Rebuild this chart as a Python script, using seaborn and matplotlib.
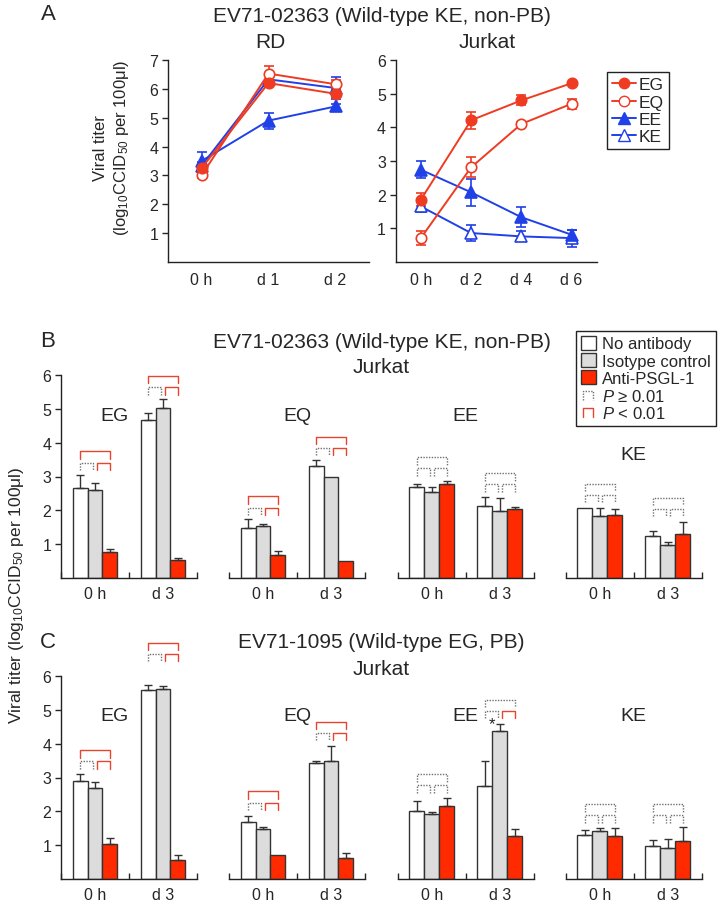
import numpy as np
import pandas as pd
import matplotlib
matplotlib.use("Agg")
import matplotlib.pyplot as plt
import seaborn as sns
from matplotlib.lines import Line2D
from matplotlib.patches import Patch
from matplotlib.legend_handler import HandlerBase

## Data: panel A (growth curves)
days_rd = ["0 h", "d 1", "d 2"]
rd_eg = [3.25, 6.20, 5.83]
rd_eg_err = [0.10, 0.10, 0.10]
rd_eq = [3.00, 6.53, 6.16]
rd_eq_err = [0.10, 0.26, 0.15]
rd_ee = [3.50, 4.90, 5.39]
rd_ee_err = [0.30, 0.28, 0.10]
rd_ke = [3.33, 6.33, 6.03]
rd_ke_err = [0.15, 0.10, 0.38]

days_j = ["0 h", "d 2", "d 4", "d 6"]
j_eg = [1.85, 4.21, 4.80, 5.31]
j_eg_err = [0.20, 0.25, 0.15, 0.05]
j_eq = [0.71, 2.81, 4.10, 4.70]
j_eq_err = [0.20, 0.30, 0.05, 0.15]
j_ee = [2.74, 2.07, 1.33, 0.81]
j_ee_err = [0.25, 0.40, 0.30, 0.15]
j_ke = [1.65, 0.86, 0.76, 0.71]
j_ke_err = [0.15, 0.25, 0.15, 0.25]

## Data: panels B and C (antibody blocking), [group][time][treatment]
groups = ["EG", "EQ", "EE", "KE"]
times = ["0 h", "d 3"]
treatments = ["No antibody", "Isotype control", "Anti-PSGL-1"]

b_mean = [[[2.65, 2.61, 0.78], [4.68, 5.01, 0.54]],
          [[1.49, 1.55, 0.68], [3.31, 3.00, 0.51]],
          [[2.68, 2.54, 2.77], [2.14, 1.97, 2.03]],
          [[2.08, 1.84, 1.87], [1.24, 0.97, 1.31]]]
b_err = [[[0.40, 0.20, 0.07], [0.20, 0.27, 0.05]],
         [[0.25, 0.05, 0.12], [0.17, 0.00, 0.00]],
         [[0.10, 0.15, 0.10], [0.26, 0.40, 0.07]],
         [[0.00, 0.22, 0.18], [0.15, 0.09, 0.35]]]
b_brk = [[3.74, 5.97], [2.41, 4.18], [3.57, 3.10], [2.79, 2.37]]
# significance for (1-2, 2-3, 1-3) brackets
b_sig = [[(0, 1, 1), (0, 1, 1)], [(0, 1, 1), (0, 1, 1)],
         [(0, 0, 0), (0, 0, 0)], [(0, 0, 0), (0, 0, 0)]]

c_mean = [[[2.90, 2.70, 1.03], [5.58, 5.61, 0.57]],
          [[1.67, 1.48, 0.71], [3.42, 3.49, 0.61]],
          [[2.02, 1.92, 2.15], [2.74, 4.38, 1.28]],
          [[1.31, 1.41, 1.26], [0.98, 0.92, 1.11]]]
c_err = [[[0.20, 0.17, 0.17], [0.15, 0.10, 0.13]],
         [[0.20, 0.05, 0.00], [0.08, 0.44, 0.17]],
         [[0.30, 0.05, 0.25], [0.76, 0.20, 0.20]],
         [[0.13, 0.10, 0.25], [0.17, 0.25, 0.43]]]
c_brk = [[3.81, 6.99], [2.59, 4.65], [3.10, 5.30], [2.21, 2.21]]
c_sig = [[(0, 1, 1), (0, 1, 1)], [(0, 1, 1), (0, 1, 1)],
         [(0, 0, 0), (0, 1, 0)], [(0, 0, 0), (0, 0, 0)]]

## Style
sns.set_style("ticks")
plt.rcParams["font.family"] = ["Liberation Sans", "DejaVu Sans"]
plt.rcParams["mathtext.fontset"] = "custom"
plt.rcParams["mathtext.rm"] = "Liberation Sans"
plt.rcParams["mathtext.it"] = "Liberation Sans:italic"
plt.rcParams["axes.linewidth"] = 1.0
plt.rcParams["axes.edgecolor"] = "#222222"

RED = "#EE3B22"
BLUE = "#2040E8"
BAR_RED = "#FF2A00"
BAR_GRAY = "#DCDCDC"
EDGE = "#333333"
DOT = "#707070"
BRK_RED = "#E8452E"
W, H = 722, 904


def fx(x):
    return x / W


def fy(y):
    return 1 - y / H


fig = plt.figure(figsize=(7.22, 9.04), dpi=100)

## Panel A
axRD = fig.add_axes([fx(168), fy(263), 201 / W, 202 / H])
axJ = fig.add_axes([fx(395.7), fy(263), 201 / W, 202 / H])

series_rd = [(rd_ke, rd_ke_err, "^", "white", BLUE), (rd_ee, rd_ee_err, "^", BLUE, BLUE),
             (rd_eq, rd_eq_err, "o", "white", RED), (rd_eg, rd_eg_err, "o", RED, RED)]
series_j = [(j_ke, j_ke_err, "^", "white", BLUE), (j_ee, j_ee_err, "^", BLUE, BLUE),
            (j_eq, j_eq_err, "o", "white", RED), (j_eg, j_eg_err, "o", RED, RED)]

for ax, days, series in [(axRD, days_rd, series_rd), (axJ, days_j, series_j)]:
    xpos = np.arange(len(days))
    for vals, err, m, fc, c in series:
        ax.errorbar(xpos, vals, yerr=err, fmt="none", ecolor=c, elinewidth=1.2,
                    capsize=3.6, capthick=1.2, zorder=2)
        sns.lineplot(x=xpos, y=vals, ax=ax, color=c, marker=m, markersize=7.5 if m == "o" else 8,
                     markerfacecolor=fc, markeredgecolor=c, markeredgewidth=1.2,
                     linewidth=1.4, zorder=3)
    ax.set_xticks(xpos)
    ax.set_xticklabels(days)
    ax.set_xlim(-0.5, len(days) - 0.5)
    ax.tick_params(axis="x", length=0, pad=7, labelsize=11.5)
    ax.tick_params(axis="y", length=4, width=1, labelsize=11.5, pad=3)
    sns.despine(ax=ax)

axRD.set_ylim(0, 7)
axRD.set_yticks(range(1, 8))
axJ.set_ylim(0, 6)
axJ.set_yticks(range(1, 7))

fig.text(fx(112), fy(148), "Viral titer\n(log$_{10}$CCID$_{50}$ per 100μl)", rotation=90,
         ha="center", va="center", fontsize=12, linespacing=1.3)

leg_a = [Line2D([], [], color=RED, marker="o", mfc=RED, mec=RED, ms=7.5, lw=1.4, label="EG"),
         Line2D([], [], color=RED, marker="o", mfc="white", mec=RED, ms=7.5, lw=1.4, label="EQ"),
         Line2D([], [], color=BLUE, marker="^", mfc=BLUE, mec=BLUE, ms=8, lw=1.4, label="EE"),
         Line2D([], [], color=BLUE, marker="^", mfc="white", mec=BLUE, ms=8, lw=1.4, label="KE")]
la = fig.legend(handles=leg_a, loc="upper left", bbox_to_anchor=(fx(606.7), fy(73)),
                borderaxespad=0, fontsize=12.5, handlelength=1.4, handletextpad=0.15,
                labelspacing=0.12, borderpad=0.3, fancybox=False, framealpha=1,
                edgecolor="#222222")
la.get_frame().set_linewidth(1.0)

fig.text(fx(48), fy(15), "A", ha="center", va="center", fontsize=16)
fig.text(fx(381.7), fy(17), "EV71-02363 (Wild-type KE, non-PB)", ha="center", va="center", fontsize=15)
fig.text(fx(270), fy(42), "RD", ha="center", va="center", fontsize=15)
fig.text(fx(487), fy(42), "Jurkat", ha="center", va="center", fontsize=15)


## Panels B and C
def bracket(ax, x0, x1, y, sig, leg=0.22):
    color = BRK_RED if sig else DOT
    ls = "-" if sig else (0, (1, 1))
    ax.plot([x0, x0, x1, x1], [y - leg, y, y, y - leg], color=color, ls=ls, lw=1.0,
            clip_on=False, zorder=4)


lefts = [61, 229, 397.7, 565.7]
bar_w = 0.22


def bar_panel(bottom_px, means, errs, brks, sigs, label_y):
    axes = []
    for g, name in enumerate(groups):
        ax = fig.add_axes([fx(lefts[g]), fy(bottom_px), 136 / W, 203 / H])
        df = pd.DataFrame([(times[t], treatments[k], means[g][t][k])
                           for t in range(2) for k in range(3)],
                          columns=["time", "treatment", "titer"])
        sns.barplot(data=df, x="time", y="titer", hue="treatment", order=times,
                    hue_order=treatments, palette=["white", BAR_GRAY, BAR_RED],
                    saturation=1, width=3 * bar_w, edgecolor=EDGE, linewidth=1.0,
                    errorbar=None, legend=False, ax=ax, zorder=2)
        for t in range(2):
            xs = t + (np.arange(3) - 1) * bar_w
            e = np.array(errs[g][t])
            v = np.array(means[g][t])
            keep = e > 0
            ax.errorbar(xs[keep], v[keep], yerr=[np.zeros(keep.sum()), e[keep]], fmt="none",
                        ecolor=EDGE, elinewidth=1.0, capsize=2.6, capthick=1.0, zorder=3)
            top = brks[g][t]
            s12, s23, s13 = sigs[g][t]
            bracket(ax, xs[0], xs[2], top, s13)
            bracket(ax, xs[0], xs[1] - 0.03, top - 0.33, s12)
            bracket(ax, xs[1] + 0.03, xs[2], top - 0.33, s23)
        ax.set_ylim(0, 6)
        ax.set_xlim(-0.5, 1.5)
        ax.set_xlabel("")
        ax.set_ylabel("")
        ax.set_xticks([0, 1])
        ax.set_xticklabels(times)
        ax.set_xticks([-0.5, 0.5, 1.5], minor=True)
        ax.tick_params(axis="x", which="major", length=0, pad=6, labelsize=11.5)
        ax.tick_params(axis="x", which="minor", direction="in", length=4, width=1)
        if g == 0:
            ax.set_yticks(range(1, 7))
            ax.tick_params(axis="y", length=4, width=1, labelsize=11.5, pad=3)
            sns.despine(ax=ax)
        else:
            ax.set_yticks([])
            sns.despine(ax=ax, left=True)
        lx = 0.29 if g == 0 else 0.5
        ax.text(lx, label_y[g], name, ha="center", va="center", fontsize=14)
        axes.append(ax)
    return axes


axB = bar_panel(579, b_mean, b_err, b_brk, b_sig, [4.8, 4.8, 4.8, 3.66])
axC = bar_panel(880, c_mean, c_err, c_brk, c_sig, [4.82, 4.82, 4.82, 4.82])
axC[2].text(0.89, 4.6, "*", ha="center", va="center", fontsize=12)

fig.text(fx(48), fy(342), "B", ha="center", va="center", fontsize=16)
fig.text(fx(381.7), fy(343), "EV71-02363 (Wild-type KE, non-PB)", ha="center", va="center", fontsize=15)
fig.text(fx(381.5), fy(368), "Jurkat", ha="center", va="center", fontsize=15)
fig.text(fx(48), fy(642), "C", ha="center", va="center", fontsize=16)
fig.text(fx(381.7), fy(642), "EV71-1095 (Wild-type EG, PB)", ha="center", va="center", fontsize=15)
fig.text(fx(381.5), fy(670), "Jurkat", ha="center", va="center", fontsize=15)
fig.text(fx(17), fy(595), "Viral titer (log$_{10}$CCID$_{50}$ per 100μl)", rotation=90,
         ha="center", va="center", fontsize=12.5)


class Bracket:
    def __init__(self, color, ls):
        self.color = color
        self.ls = ls


class BracketHandler(HandlerBase):
    def create_artists(self, legend, orig_handle, xdescent, ydescent, width, height,
                       fontsize, trans):
        x0 = -xdescent + width * 0.1
        x1 = -xdescent + width * 0.8
        y0 = -ydescent + height * 0.15
        y1 = -ydescent + height * 0.8
        line = Line2D([x0, x0, x1, x1], [y0, y1, y1, y0], color=orig_handle.color,
                      ls=orig_handle.ls, lw=1.0, transform=trans)
        return [line]


leg_b = [Patch(facecolor="white", edgecolor=EDGE, lw=1.0),
         Patch(facecolor=BAR_GRAY, edgecolor=EDGE, lw=1.0),
         Patch(facecolor=BAR_RED, edgecolor=EDGE, lw=1.0),
         Bracket(DOT, (0, (1, 1))), Bracket(BRK_RED, "-")]
labels_b = treatments + ["$P$ ≥ 0.01", "$P$ < 0.01"]
lb = fig.legend(handles=leg_b, labels=labels_b, loc="upper left",
                bbox_to_anchor=(fx(576), fy(331.7)), borderaxespad=0, fontsize=12,
                handlelength=0.9, handleheight=0.9, handletextpad=0.35, labelspacing=0.1,
                borderpad=0.3, fancybox=False, framealpha=1, edgecolor="#222222",
                handler_map={Bracket: BracketHandler()})
lb.get_frame().set_linewidth(1.0)

plt.savefig("out.png", dpi=100)
